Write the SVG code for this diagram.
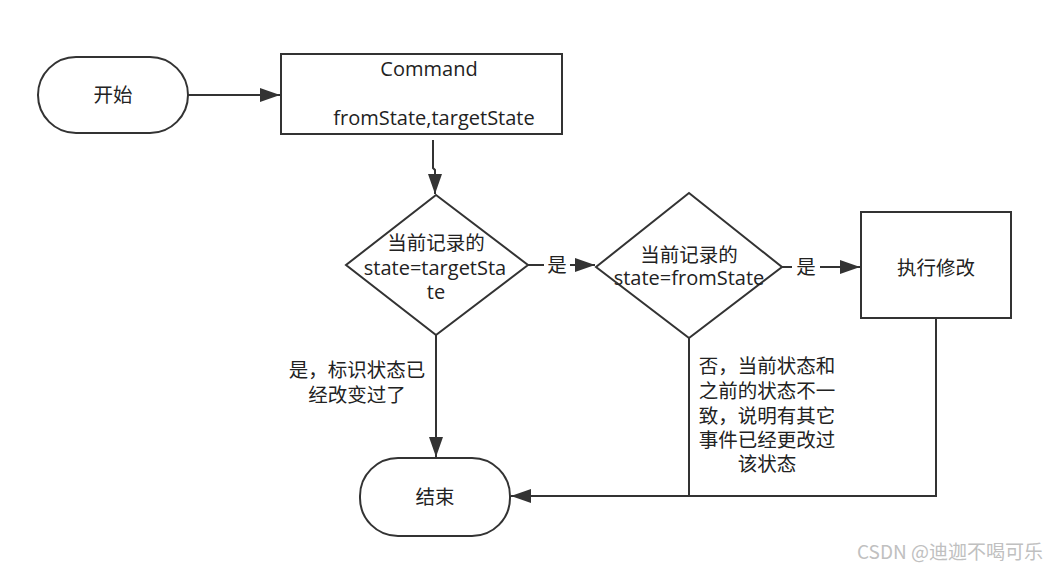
<svg xmlns="http://www.w3.org/2000/svg" width="1048" height="571" viewBox="0 0 1048 571">
<style>
.s{fill:#fff;stroke:#333;stroke-width:2}
.c{fill:none;stroke:#333;stroke-width:2}
text{font-family:"Open Sans","Noto Sans CJK SC",sans-serif;font-size:20px;fill:#222;text-anchor:middle}
.z{font-family:"Noto Sans CJK SC",sans-serif;font-size:19.5px}
.w{font-family:"Noto Sans CJK SC",sans-serif;font-size:19px;fill:#c0c0c0;text-anchor:end}
</style>
<defs>
<marker id="b" viewBox="0 0 20 14" refX="20" refY="7" markerWidth="20" markerHeight="14" markerUnits="userSpaceOnUse" orient="auto"><path d="M0,0 L20,7 L0,14 Z" fill="#333"/></marker>
</defs>
<rect width="1048" height="571" fill="#fff"/>
<g id="connectors">
<path class="c" d="M188,95 L280,95" marker-end="url(#b)"/>
<path class="c" d="M433,140 L433,168 L435,170 L435,194" marker-end="url(#b)"/>
<path class="c" d="M528,265 L544,265"/>
<path class="c" d="M570,265 L595,265" marker-end="url(#b)"/>
<path class="c" d="M782,267 L792,267"/>
<path class="c" d="M820,267 L860,267" marker-end="url(#b)"/>
<path class="c" d="M436,335 L436,457" marker-end="url(#b)"/>
<path class="c" d="M689,338 L689,496 L511,496" marker-end="url(#b)"/>
<path class="c" d="M936,318 L936,496 L689,496"/>
<text class="z" x="557" y="272">是</text>
<text class="z" x="806" y="274">是</text>
<text class="z" x="357" y="377">是，标识状态已</text>
<text class="z" x="357" y="402">经改变过了</text>
<text class="z" x="767" y="373">否，当前状态和</text>
<text class="z" x="767" y="398">之前的状态不一</text>
<text class="z" x="767" y="423">致，说明有其它</text>
<text class="z" x="767" y="447">事件已经更改过</text>
<text class="z" x="767" y="471">该状态</text>
</g>
<g id="start">
<rect class="s" x="38" y="57" width="150" height="76" rx="38" ry="38"/>
<text class="z" x="113" y="102">开始</text>
</g>
<g id="command">
<rect class="s" x="281" y="54" width="281" height="80"/>
<text x="429" y="76">Command</text>
<text x="434" y="125">fromState,targetState</text>
</g>
<g id="decision1">
<path class="s" d="M436,195 L528,265 L436,335 L346,265 Z"/>
<text class="z" x="436" y="250">当前记录的</text>
<text x="435" y="275">state=targetSta</text>
<text x="436" y="299">te</text>
</g>
<g id="decision2">
<path class="s" d="M689,193 L782,267 L689,338 L596,267 Z"/>
<text class="z" x="689" y="262">当前记录的</text>
<text x="689" y="285">state=fromState</text>
</g>
<g id="execute">
<rect class="s" x="861" y="212" width="150" height="106"/>
<text class="z" x="936" y="275">执行修改</text>
</g>
<g id="end">
<rect class="s" x="360" y="458" width="150" height="78" rx="38" ry="38"/>
<text class="z" x="435" y="504">结束</text>
</g>
<text class="w" x="1043" y="559">CSDN @迪迦不喝可乐</text>
</svg>
